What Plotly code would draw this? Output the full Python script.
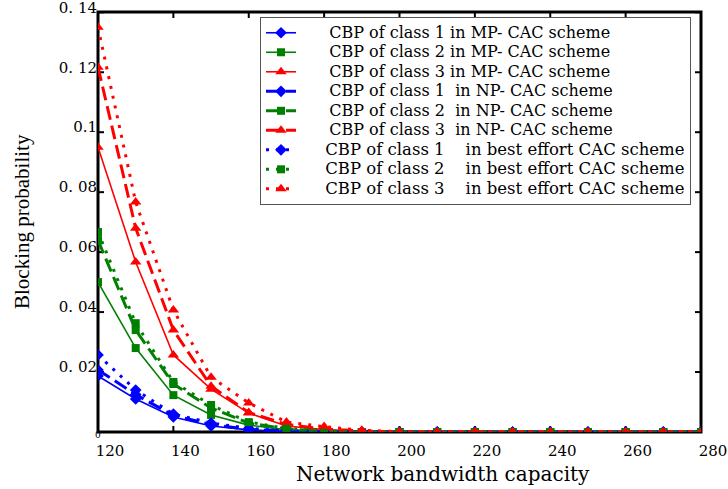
import plotly.graph_objects as go

capacity = [120, 130, 140, 150, 160, 170, 180, 190, 200, 210, 220, 230, 240, 250, 260, 270, 280]

mp_class1 = [0.0187, 0.0110, 0.0050, 0.0020, 0.0007, 0.0002, 0, 0, 0, 0, 0, 0, 0, 0, 0, 0, 0]
mp_class2 = [0.0500, 0.0280, 0.0123, 0.0057, 0.0023, 0.0007, 0.0002, 0, 0, 0, 0, 0, 0, 0, 0, 0, 0]
mp_class3 = [0.0950, 0.0567, 0.0257, 0.0143, 0.0063, 0.0020, 0.0008, 0.0002, 0, 0, 0, 0, 0, 0, 0, 0, 0]

np_class1 = [0.0207, 0.0125, 0.0055, 0.0025, 0.0009, 0.0003, 0, 0, 0, 0, 0, 0, 0, 0, 0, 0, 0]
np_class2 = [0.0640, 0.0340, 0.0160, 0.0080, 0.0030, 0.0010, 0.0003, 0, 0, 0, 0, 0, 0, 0, 0, 0, 0]
np_class3 = [0.1217, 0.0680, 0.0340, 0.0153, 0.0065, 0.0025, 0.0010, 0.0003, 0, 0, 0, 0, 0, 0, 0, 0, 0]

be_class1 = [0.0257, 0.0140, 0.0060, 0.0030, 0.0012, 0.0004, 0.0001, 0, 0, 0, 0, 0, 0, 0, 0, 0, 0]
be_class2 = [0.0667, 0.0363, 0.0167, 0.0090, 0.0033, 0.0012, 0.0004, 0, 0, 0, 0, 0, 0, 0, 0, 0, 0]
be_class3 = [0.1350, 0.0767, 0.0407, 0.0183, 0.0097, 0.0033, 0.0018, 0.0006, 0.0001, 0, 0, 0, 0, 0, 0, 0, 0]

y_tickvals = [0.02, 0.04, 0.06, 0.08, 0.10, 0.12, 0.14]
y_ticktext = ["0. 02", "0. 04", "0. 06", "0. 08", "0.1", "0. 12", "0. 14"]
x_tickvals = [120, 140, 160, 180, 200, 220, 240, 260, 280]
x_range = [120, 280]
y_range = [0, 0.1401]

S = "\u00a0"
P1 = S * 7
P2 = S * 6


def big(t, size=16):
    return '<span style="font-size:%gpx">' % size + t + "</span>"


series = [
    (P1 + big("CBP of class 1" + S + "in MP- CAC scheme"), mp_class1, "#0000ff", "diamond", "solid", 1.6, 9),
    (P1 + big("CBP of class 2" + S + "in MP- CAC scheme"), mp_class2, "#008000", "square", "solid", 1.6, 8),
    (P1 + big("CBP of class 3" + S + "in MP- CAC scheme"), mp_class3, "#ff0000", "triangle-up", "solid", 1.6, 10),
    (P1 + big("CBP of class 1" + S * 2 + "in NP- CAC scheme"), np_class1, "#0000ff", "diamond", "14px,6px", 3, 9),
    (P1 + big("CBP of class 2" + S * 2 + "in NP- CAC scheme"), np_class2, "#008000", "square", "14px,6px", 3, 8),
    (P1 + big("CBP of class 3" + S * 2 + "in NP- CAC scheme"), np_class3, "#ff0000", "triangle-up", "14px,6px", 3, 10),
    (P2 + big("CBP of class 1" + S * 4 + "in best effort CAC scheme", 16.5), be_class1, "#0000ff", "diamond", "3px,7px", 3, 9),
    (P2 + big("CBP of class 2" + S * 4 + "in best effort CAC scheme", 16.5), be_class2, "#008000", "square", "3px,7px", 3, 8),
    (P2 + big("CBP of class 3" + S * 4 + "in best effort CAC scheme", 16.5), be_class3, "#ff0000", "triangle-up", "3px,7px", 3, 10),
]

fig = go.Figure()
for name, vals, color, sym, dash, lw, ms in series:
    fig.add_trace(go.Scatter(
        x=capacity, y=vals, name=name, mode="lines+markers",
        line=dict(color=color, width=lw, dash=dash),
        marker=dict(symbol=sym, size=ms, color=color),
    ))

wide = "DejaVu Serif"
narrow = "Liberation Serif"
PLOT_W, PLOT_H = 603, 420
fig.update_layout(
    width=728, height=489,
    margin=dict(l=98, r=27, t=12, b=57),
    paper_bgcolor="white", plot_bgcolor="white",
    font=dict(family=wide, color="black"),
    showlegend=True,
    legend=dict(
        x=(260 - 98) / PLOT_W, y=(432 - 17) / PLOT_H, xanchor="left", yanchor="top",
        bgcolor="white", bordercolor="#555555", borderwidth=1,
        font=dict(family=wide, size=12.7, color="black"),
        tracegroupgap=0, itemwidth=30,
    ),
    xaxis=dict(
        range=x_range, tickvals=x_tickvals, automargin=False, showline=False,
        showgrid=False, zeroline=False, ticks="",
        tickfont=dict(size=15, family=wide), ticklabelshift=12, ticklabelstandoff=8,
        ticklabeloverflow="allow",
    ),
    yaxis=dict(
        range=y_range, tickvals=y_tickvals, ticktext=y_ticktext, automargin=False, showline=False,
        showgrid=False, zeroline=False, ticks="",
        tickfont=dict(size=15, family=wide), ticklabelshift=-5,
        ticklabeloverflow="allow",
    ),
)

# plot frame and tick marks (inside, on all four sides)
fig.add_shape(type="rect", xref="paper", yref="paper", x0=0, x1=1, y0=0, y1=1,
              line=dict(color="black", width=3), layer="below")
tl_y = 6 / PLOT_H
tl_x = 6 / PLOT_W
for xv in x_tickvals:
    fig.add_shape(type="line", xref="x", yref="paper", x0=xv, x1=xv, y0=0, y1=tl_y,
                  line=dict(color="black", width=2), layer="below")
    fig.add_shape(type="line", xref="x", yref="paper", x0=xv, x1=xv, y0=1, y1=1 - tl_y,
                  line=dict(color="black", width=2), layer="below")
for yv in y_tickvals:
    fig.add_shape(type="line", xref="paper", yref="y", x0=0, x1=tl_x, y0=yv, y1=yv,
                  line=dict(color="black", width=2), layer="below")
    fig.add_shape(type="line", xref="paper", yref="y", x0=1, x1=1 - tl_x, y0=yv, y1=yv,
                  line=dict(color="black", width=2), layer="below")

fig.add_annotation(x=(443 - 98) / PLOT_W, y=-(474 - 432) / PLOT_H, xref="paper", yref="paper",
                   text="Network bandwidth capacity", showarrow=False,
                   font=dict(size=20, family=wide), xanchor="center", yanchor="middle")
fig.add_annotation(x=-(98 - 22) / PLOT_W, y=0.5, xref="paper", yref="paper",
                   text="Blocking probability", showarrow=False, textangle=-90,
                   font=dict(size=21, family=narrow), xanchor="center", yanchor="middle")
fig.add_annotation(x=120, y=0, xref="x", yref="y", text="0", showarrow=False,
                   font=dict(size=9, family=wide), yanchor="top", yshift=4)

fig.write_html("out.html")
